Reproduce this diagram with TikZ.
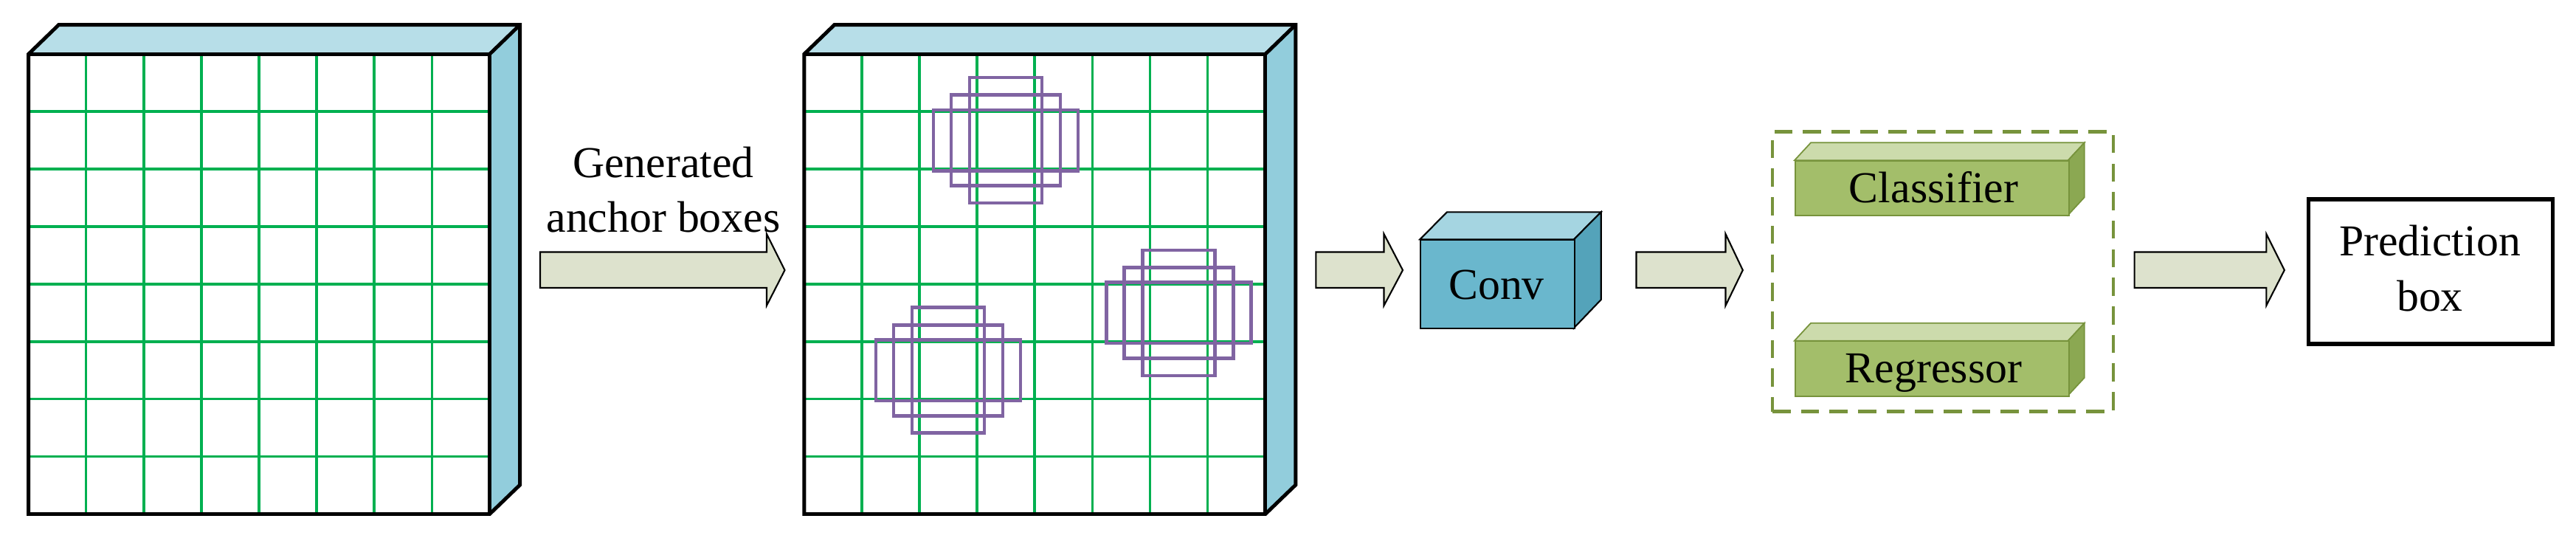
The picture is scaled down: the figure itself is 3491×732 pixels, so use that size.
\documentclass[tikz,border=0pt]{standalone}
\usepackage{fontspec}
\setmainfont{Liberation Serif}
\definecolor{gridg}{RGB}{0,176,80}
\definecolor{ancp}{RGB}{128,100,162}
\definecolor{arrf}{RGB}{221,226,205}
\definecolor{fmtop}{RGB}{183,222,232}
\definecolor{fmside}{RGB}{146,205,220}
\definecolor{cvfront}{RGB}{106,183,205}
\definecolor{cvtop}{RGB}{165,213,225}
\definecolor{cvside}{RGB}{84,163,186}
\definecolor{gline}{RGB}{119,147,60}
\definecolor{gfront}{RGB}{163,190,106}
\definecolor{gtop}{RGB}{204,219,172}
\definecolor{gside}{RGB}{139,168,82}
\begin{document}
\begin{tikzpicture}[x=0.01cm,y=-0.01cm,
  lbl/.style={font=\fontsize{17}{20}\selectfont,anchor=base,inner sep=0pt},
  gridln/.style={draw=gridg,line width=1pt},
  frame/.style={draw=black,line width=1.4pt},
  anc/.style={draw=ancp,line width=1.3pt},
  barrow/.style={draw=black,line width=0.6pt,fill=arrf}]
\useasboundingbox (0,0) rectangle (3491,732);
% feature map cubes
\foreach \X/\nm in {38.6/fm1,1089.8/fm2}{
  \fill[fmtop] (\X,73.3) -- (\X+41,33.6) -- (\X+666,33.6) -- (\X+625,73.3) -- cycle;
  \fill[fmside] (\X+625,73.3) -- (\X+666,33.6) -- (\X+666,657) -- (\X+625,696.5) -- cycle;
  \node[minimum width=6.25cm,minimum height=6.232cm,inner sep=0,fill=white,anchor=north west] (\nm) at (\X,73.3) {};
  \foreach \i in {1,...,7}{
    \draw[gridln] (\X+\i*78.1,73.3) -- (\X+\i*78.1,696.5);
    \draw[gridln] (\X,73.3+\i*77.9) -- (\X+625,73.3+\i*77.9);
  }
  \draw[frame,line join=miter] (\X,73.3) -- (\X+41,33.6) -- (\X+666,33.6) -- (\X+666,657) -- (\X+625,696.5) -- (\X,696.5) -- cycle;
  \draw[frame] (\X,73.3) -- (\X+625,73.3) -- (\X+625,696.5);
  \draw[frame] (\X+625,73.3) -- (\X+666,33.6);
}
% anchor boxes
\foreach \cx/\cy in {3.5/1.5, 2.5/5.5, 6.5/4.5}{
  \begin{scope}[shift={(1089.8+\cx*78.1,73.3+\cy*77.9)}]
    \draw[anc] (-49,-85) rectangle (49,85);
    \draw[anc] (-74,-61.5) rectangle (74,61.5);
    \draw[anc] (-98,-41.2) rectangle (98,41.2);
  \end{scope}
}
% block arrows
\foreach \a/\b/\c in {732/1039/1063.5, 1783.3/1875.5/1901, 2217.5/2338.5/2361.8, 2892.6/3071.3/3095.8}{
  \draw[barrow] (\a,341.5) -- (\b,341.5) -- (\b,317) -- (\c,366) -- (\b,414) -- (\b,390) -- (\a,390) -- cycle;
}
\node[lbl] (gen1) at (899,240) {Generated};
\node[lbl] (gen2) at (899,314) {anchor boxes};
% Conv
\filldraw[fill=cvtop,draw=black,line width=0.6pt] (1924.3,324.3) -- (1961,287.3) -- (2169.7,287.3) -- (2133,324.3) -- cycle;
\filldraw[fill=cvside,draw=black,line width=0.6pt] (2133,324.3) -- (2169.7,287.3) -- (2169.7,406) -- (2133,444.3) -- cycle;
\node[draw=black,line width=0.6pt,fill=cvfront,minimum width=2.087cm,minimum height=1.2cm,inner sep=0,anchor=north west] (conv) at (1924.3,324.3) {};
\node[lbl] at (2028,405) {Conv};
% head group
\node[draw=gline,dash pattern=on 7pt off 4pt,line width=1.3pt,minimum width=4.62cm,minimum height=3.79cm,anchor=north west] (head) at (2399.6,176) {};
\foreach \y/\t/\nm in {217.3/Classifier/cls, 461.7/Regressor/reg}{
  \filldraw[fill=gtop,draw=gline,line width=0.5pt] (2431.8,\y) -- (2454,\y-24) -- (2824.8,\y-24) -- (2802.6,\y) -- cycle;
  \filldraw[fill=gside,draw=gline,line width=0.5pt] (2802.6,\y) -- (2824.8,\y-24) -- (2824.8,\y+50) -- (2802.6,\y+74) -- cycle;
  \node[draw=gline,line width=0.5pt,fill=gfront,minimum width=3.708cm,minimum height=0.74cm,inner sep=0,anchor=north west] (\nm) at (2431.8,\y) {};
  \node[lbl] at (2620.5,\y+56.7) {\t};
}
% prediction
\node[draw=black,line width=1.5pt,minimum width=3.31cm,minimum height=1.96cm,inner sep=0,anchor=north west] (pred) at (3125.7,267.3) {};
\node[lbl] (p1) at (3293,346.7) {Prediction};
\node[lbl] (p2) at (3293,421.7) {box};
\end{tikzpicture}
\end{document}
